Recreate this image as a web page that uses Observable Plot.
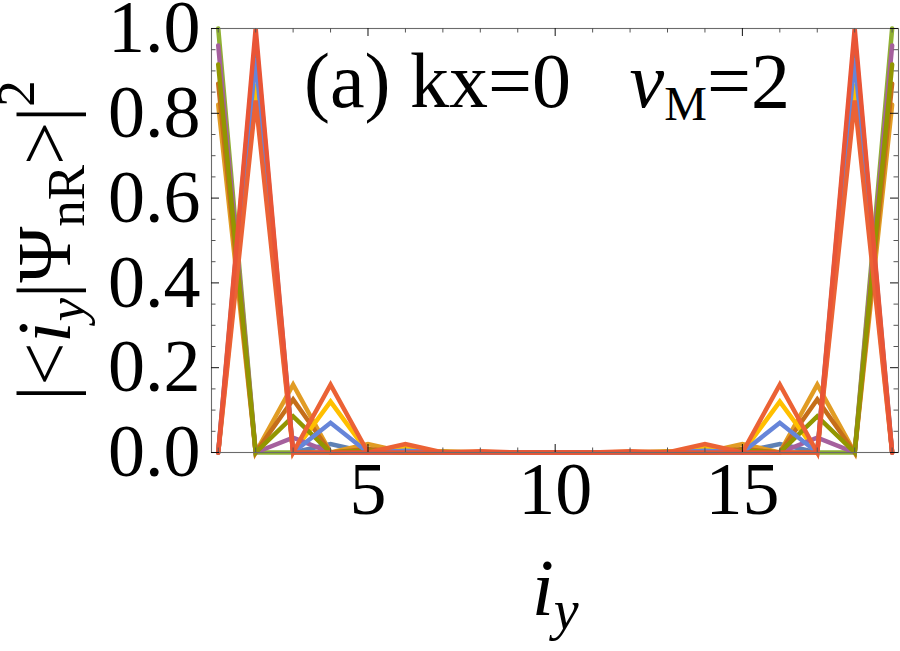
<!DOCTYPE html>
<html><head><meta charset="utf-8">
<script src="https://cdn.jsdelivr.net/npm/d3@7"></script>
<script src="https://cdn.jsdelivr.net/npm/@observablehq/plot@0.6"></script>
<style>
html,body{margin:0;padding:0;background:#fff;}
#chart svg{display:block;}
</style>
</head><body><div id="chart"></div>
<script>
// ---- data ----
const sites = [1,2,3,4,5,6,7,8,9,10,11,12,13,14,15,16,17,18,19];

const seriesNames  = ["s1","s2","s3","s4","s5","s6","s7","s8","s9","s10"];
const seriesColors = ["#5E81B5","#E19C24","#8FB032","#C56E1A","#FFBF00","#A5609D","#929600","#6685D9","#EB6235","#E95536"];

const s1  = [0,0.98,0,0.02,0,0.001,0,0,0,0,0,0,0,0,0.001,0.02,0,0.98,0];
const s2  = [0.82,0,0.16,0,0.02,0,0.003,0,0,0,0,0,0.003,0,0.02,0,0.16,0,0.82];
const s3  = [1,0,0,0,0,0,0,0,0,0,0,0,0,0,0,0,0,0,1];
const s4  = [0.87,0,0.125,0,0.008,0,0.001,0,0,0,0,0,0.001,0,0.008,0,0.125,0,0.87];
const s5  = [0,0.87,0,0.12,0,0.012,0,0.001,0,0,0,0.001,0,0.012,0,0.12,0,0.87,0];
const s6  = [0.96,0,0.035,0,0.001,0,0,0,0,0,0,0,0,0,0.001,0,0.035,0,0.96];
const s7  = [0.915,0,0.085,0,0.004,0,0,0,0,0,0,0,0,0,0.004,0,0.085,0,0.915];
const s8  = [0,0.93,0,0.07,0,0.004,0,0,0,0,0,0,0,0.004,0,0.07,0,0.93,0];
const s9  = [0,0.83,0,0.16,0,0.02,0,0.003,0,0,0,0.003,0,0.02,0,0.16,0,0.83,0];
const s10 = [0,1,0,0,0,0,0,0,0,0,0,0,0,0,0,0,0,1,0];
const seriesValues = [s1,s2,s3,s4,s5,s6,s7,s8,s9,s10];

const xTickLabels = [5,10,15];
const xMinorTicks = [1,2,3,4,6,7,8,9,11,12,13,14,16,17,18,19];
const yTickLabels = [0,0.2,0.4,0.6,0.8,1.0];
const yMinorTicks = [0.05,0.1,0.15,0.25,0.3,0.35,0.45,0.5,0.55,0.65,0.7,0.75,0.85,0.9,0.95];

const annotationText = "(a) kx=0   νM=2";
const yTitleText = "|<iy|ΨnR>|2";
const xTitleText = "iy";

// ---- layout ----
const W = 900, H = 651;
const mL = 211, mR = 2, mT = 28, mB = 199;
const xDom = [0.82, 19.17], yDom = [0, 1];
const pxX = (W - mL - mR) / (xDom[1] - xDom[0]);
const pxY = (H - mT - mB) / (yDom[1] - yDom[0]);
const majY = 8 / pxY, minY = 4.5 / pxY, majX = 8 / pxX, minX = 4.5 / pxX;
const serif = "'Liberation Serif', 'Times New Roman', serif";

const rows = [];
seriesNames.forEach((name, k) => seriesValues[k].forEach((v, j) => rows.push({series: name, i: sites[j], v})));

const frameStroke = "#6b6b6b";

const chart = Plot.plot({
  width: W, height: H,
  marginLeft: mL, marginRight: mR, marginTop: mT, marginBottom: mB,
  style: {fontFamily: serif, background: "#fff", overflow: "visible"},
  x: {domain: xDom, axis: null},
  y: {domain: yDom, axis: null},
  color: {domain: seriesNames, range: seriesColors},
  marks: [
    Plot.line(rows, {x: "i", y: "v", z: "series", stroke: "series", strokeWidth: 4.5, strokeLinejoin: "miter", strokeMiterlimit: 4}),
    Plot.frame({stroke: frameStroke, strokeWidth: 1.1}),
    // bottom ticks
    Plot.ruleX(xMinorTicks, {x: d => d, y1: yDom[0], y2: yDom[0] + minY, stroke: "#555", strokeWidth: 1}),
    Plot.ruleX(xTickLabels, {x: d => d, y1: yDom[0], y2: yDom[0] + majY, stroke: "#111", strokeWidth: 1}),
    // top ticks
    Plot.ruleX(xMinorTicks, {x: d => d, y1: yDom[1] - minY, y2: yDom[1], stroke: "#555", strokeWidth: 1}),
    Plot.ruleX(xTickLabels, {x: d => d, y1: yDom[1] - majY, y2: yDom[1], stroke: "#111", strokeWidth: 1}),
    // left ticks
    Plot.ruleY(yMinorTicks, {y: d => d, x1: xDom[0], x2: xDom[0] + minX, stroke: "#555", strokeWidth: 1}),
    Plot.ruleY(yTickLabels, {y: d => d, x1: xDom[0], x2: xDom[0] + majX, stroke: "#111", strokeWidth: 1}),
    // right ticks
    Plot.ruleY(yMinorTicks, {y: d => d, x1: xDom[1] - minX, x2: xDom[1], stroke: "#555", strokeWidth: 1}),
    Plot.ruleY(yTickLabels, {y: d => d, x1: xDom[1] - majX, x2: xDom[1], stroke: "#111", strokeWidth: 1}),
    // tick labels
    Plot.text(xTickLabels, {x: d => d, text: d => String(d), frameAnchor: "bottom", dy: 61, fontSize: 74, fill: "#000"}),
    Plot.text(yTickLabels, {y: d => d, text: d => d.toFixed(1), frameAnchor: "left", textAnchor: "end", dx: -11, fontSize: 74, fill: "#000"}),
    // annotation
    Plot.text([annotationText], {x: 9.78, y: 0.873, text: d => d, textAnchor: "middle", fontSize: 78, fill: "#000"}),
    // axis titles
    Plot.text([xTitleText], {x: 10, text: d => d, frameAnchor: "bottom", textAnchor: "middle", dy: 162, fontSize: 80, fill: "#000"}),
    Plot.text([yTitleText], {frameAnchor: "left", textAnchor: "middle", dx: -166, rotate: -90, text: d => d, fontSize: 76, fill: "#000"})
  ]
});

// rich text formatting (italics, sub/superscripts)
function richify(svg, plain, parts) {
  d3.select(svg).selectAll("text").filter(function() { return this.textContent === plain; }).each(function() {
    const t = d3.select(this);
    t.text(null).style("white-space", "pre");
    parts.forEach(p => {
      const ts = t.append("tspan").text(p.t);
      if (p.it) ts.attr("font-style", "italic");
      if (p.fs) ts.attr("font-size", p.fs);
      if (p.dy) ts.attr("dy", p.dy);
    });
  });
}
richify(chart, annotationText, [
  {t: "(a) kx=0   "},
  {t: "ν", it: true},
  {t: "M", fs: 48, dy: 13},
  {t: "=2", dy: -13}
]);
richify(chart, yTitleText, [
  {t: "|<"},
  {t: "i", it: true},
  {t: "y", it: true, fs: 53, dy: 14},
  {t: "|Ψ", dy: -14},
  {t: "nR", fs: 53, dy: 14},
  {t: ">|", dy: -14},
  {t: "2", fs: 53, dy: -36}
]);
richify(chart, xTitleText, [
  {t: "i", it: true},
  {t: "y", it: true, fs: 56, dy: 14}
]);

document.getElementById("chart").appendChild(chart);
</script>
</body></html>
